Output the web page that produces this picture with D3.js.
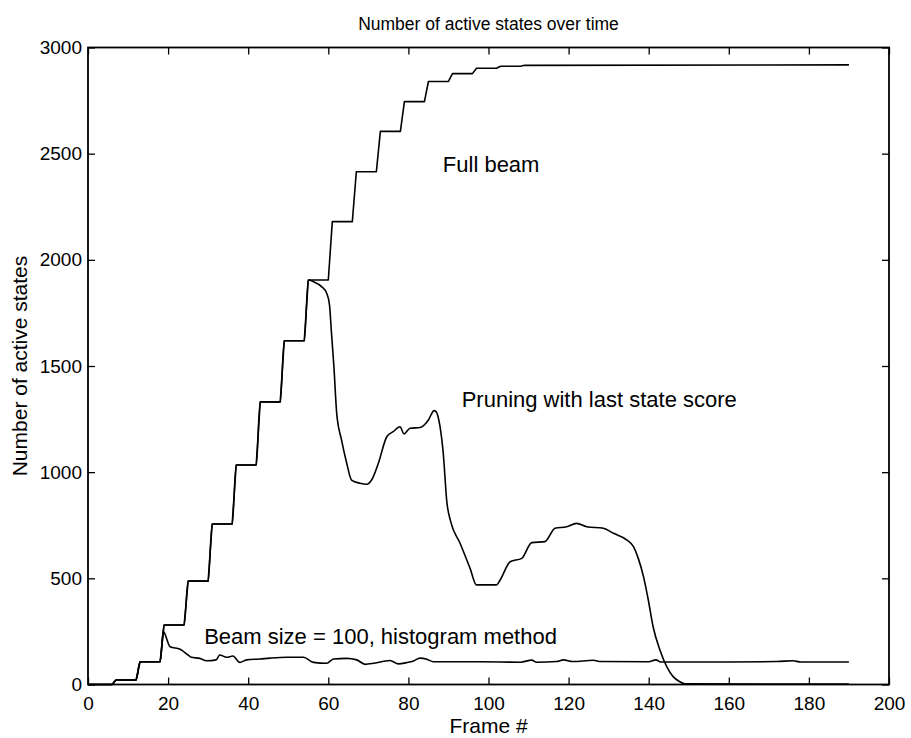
<!DOCTYPE html>
<html>
<head>
<meta charset="utf-8">
<script src="https://cdn.jsdelivr.net/npm/d3@7"></script>
<style>
  body { margin: 0; background: #fff; }
  svg { display: block; background: #fff; }
  text { font-family: "Liberation Sans", Arial, Helvetica, sans-serif; fill: #000; }
</style>
</head>
<body>
<svg id="chart" width="911" height="738"></svg>
<script>
// Axis ticks
const xTicks = [0, 20, 40, 60, 80, 100, 120, 140, 160, 180, 200];
const yTicks = [0, 500, 1000, 1500, 2000, 2500, 3000];

// Full beam: active states per frame (staircase growth)
const fullBeamFrames = [0, 6, 7, 12, 13, 18, 19, 24, 25, 30, 31, 36, 37, 42, 43, 48, 49, 54, 55, 60,
  61, 66, 67, 72, 73, 78, 79, 84, 85, 90, 91, 96, 97, 102, 103, 108, 109, 190];
const fullBeamStates = [0, 0, 21, 21, 107, 107, 280, 280, 487, 487, 756, 756, 1034, 1034, 1331, 1331, 1619, 1619, 1905, 1905,
  2180, 2180, 2415, 2415, 2605, 2605, 2745, 2745, 2840, 2840, 2877, 2877, 2902, 2902, 2912, 2912, 2916, 2918];

// Pruning with last state score
const pruningFrames = [0, 6, 7, 12, 13, 18, 19, 24, 25, 30, 31, 36, 37, 42, 43, 48, 49, 54, 55,
  56.3, 58.3, 59.6, 60.3, 60.8, 61.4, 62.1, 63.3, 64.6, 65.8, 67.9, 69.6, 70.8, 72.5, 74.6, 76.2, 77.9,
  78.9, 80.4, 82.9, 85.0, 86.4, 86.9, 87.9, 88.7, 89.6, 90.6, 92.9, 95.4, 97.0, 102.0, 102.9, 105.4,
  108.3, 110.8, 114.1, 116.6, 119.5, 122.0, 124.5, 128.7, 131.2, 134.5, 136.2, 137.4, 138.7, 139.9,
  141.1, 142.8, 144.5, 146.1, 147.8, 149.0, 190];
const pruningStates = [0, 0, 21, 21, 107, 107, 280, 280, 487, 487, 756, 756, 1034, 1034, 1331, 1331, 1619, 1619, 1905,
  1897, 1874, 1843, 1788, 1654, 1497, 1277, 1152, 1042, 963, 948, 943, 963, 1042, 1167, 1191, 1214,
  1180, 1207, 1210, 1246, 1290, 1285, 1214, 1089, 860, 765, 665, 547, 469, 469, 492, 578,
  594, 668, 673, 736, 743, 759, 743, 736, 712, 681, 649, 594, 508, 398,
  272, 162, 84, 37, 13, 3, 2];

// Beam size = 100, histogram method
const histFrames = [0, 6, 7, 12, 13, 18, 18.8, 20.5, 23, 25, 25.8, 27.9, 29.6, 32, 32.9, 34.6, 36.2, 37.9,
  39.6, 42.9, 45.4, 49.6, 53.8, 56.3, 59.6, 61.3, 64.6, 67.1, 69.2, 71.3, 73.3, 75.4, 77.5, 79.6, 81.3,
  82.9, 84.6, 86.2, 98, 108, 110.8, 112, 117, 118.7, 121, 126.2, 128, 140, 141.8, 143, 160, 172, 176, 178, 190];
const histStates = [0, 0, 21, 21, 107, 107, 249, 178, 166, 139, 128, 123, 112, 116, 139, 128, 134, 104,
  116, 120, 124, 128, 128, 104, 100, 120, 123, 116, 95, 100, 107, 113, 97, 103, 111,
  124, 119, 107, 107, 105, 115, 105, 108, 116, 108, 114, 108, 107, 116, 106, 106, 108, 112, 106, 106];

const svg = d3.select("#chart");
const margin = { left: 88, right: 22, top: 47.5, bottom: 53.5 };
const W = 911, H = 738;
const x = d3.scaleLinear().domain([0, 200]).range([margin.left, W - margin.right]);
const y = d3.scaleLinear().domain([0, 3000]).range([H - margin.bottom, margin.top]);

const tickLen = 7;

// Bottom axis with labels
const gx = svg.append("g").attr("transform", `translate(0,${y(0)})`)
  .call(d3.axisBottom(x).tickValues(xTicks).tickSize(-tickLen).tickPadding(12).tickFormat(d3.format("d")));
// Left axis with labels
const gy = svg.append("g").attr("transform", `translate(${x(0)},0)`)
  .call(d3.axisLeft(y).tickValues(yTicks).tickSize(-tickLen).tickPadding(6).tickFormat(d3.format("d")));
// Top and right: ticks only
const gt = svg.append("g").attr("transform", `translate(0,${y(3000)})`)
  .call(d3.axisTop(x).tickValues(xTicks).tickSize(-tickLen).tickFormat(""));
const gr = svg.append("g").attr("transform", `translate(${x(200)},0)`)
  .call(d3.axisRight(y).tickValues(yTicks).tickSize(-tickLen).tickFormat(""));

[gx, gy, gt, gr].forEach(g => {
  g.select(".domain").remove();
  g.selectAll(".tick line").attr("stroke", "#000").attr("stroke-width", 1.3);
  g.selectAll(".tick text").attr("font-size", 19).attr("font-family", "Liberation Sans, Arial, sans-serif").attr("fill", "#000");
});

// Plot box
svg.append("rect")
  .attr("x", x(0)).attr("y", y(3000))
  .attr("width", x(200) - x(0)).attr("height", y(0) - y(3000))
  .attr("fill", "none").attr("stroke", "#000").attr("stroke-width", 1.8);

// Series lines: the staircase is drawn straight, the measured curves smoothed
const series = [
  { frames: fullBeamFrames, states: fullBeamStates, curve: d3.curveLinear },
  { frames: pruningFrames, states: pruningStates, curve: d3.curveMonotoneX },
  { frames: histFrames, states: histStates, curve: d3.curveMonotoneX }
];
series.forEach(s => {
  const line = d3.line().x(d => x(d[0])).y(d => y(d[1])).curve(s.curve);
  svg.append("path")
    .datum(d3.zip(s.frames, s.states))
    .attr("d", line)
    .attr("fill", "none")
    .attr("stroke", "#000")
    .attr("stroke-width", 1.6)
    .attr("stroke-linejoin", "round");
});

// Title and axis labels
svg.append("text").attr("x", (x(0) + x(200)) / 2).attr("y", 30)
  .attr("text-anchor", "middle").attr("font-size", 17.5)
  .text("Number of active states over time");
svg.append("text").attr("x", (x(0) + x(200)) / 2).attr("y", 733)
  .attr("text-anchor", "middle").attr("font-size", 21)
  .text("Frame #");
svg.append("text")
  .attr("transform", `translate(27,${(y(0) + y(3000)) / 2}) rotate(-90)`)
  .attr("text-anchor", "middle").attr("font-size", 21)
  .text("Number of active states");

// Curve annotations
const notes = [
  { text: "Full beam", frame: 88.6, state: 2414 },
  { text: "Pruning with last state score", frame: 93.3, state: 1307 },
  { text: "Beam size = 100, histogram method", frame: 29, state: 192 }
];
notes.forEach(n => {
  svg.append("text").attr("x", x(n.frame)).attr("y", y(n.state))
    .attr("font-size", 22).text(n.text);
});
</script>
</body>
</html>
